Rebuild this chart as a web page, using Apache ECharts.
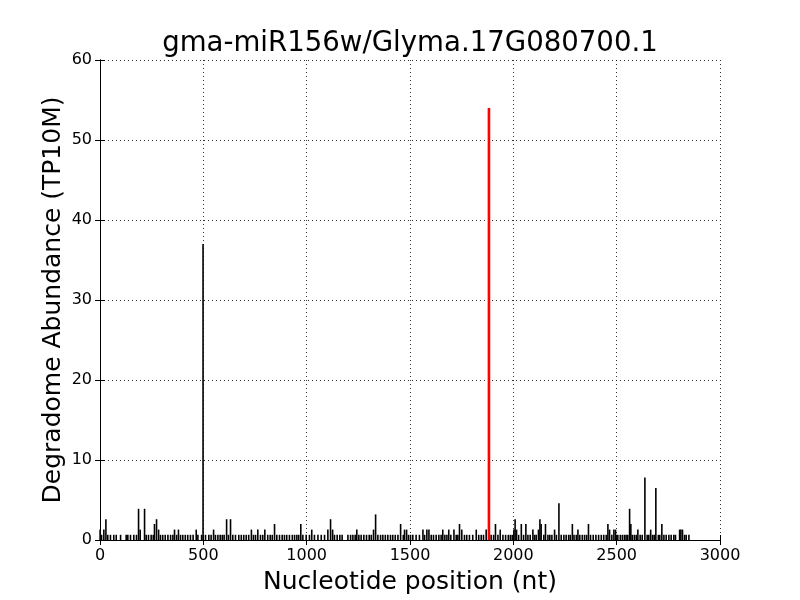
<!DOCTYPE html>
<html>
<head>
<meta charset="utf-8">
<script src="https://cdn.jsdelivr.net/npm/echarts@6/dist/echarts.min.js"></script>
<style>html,body{margin:0;padding:0;background:#fff}#c{width:800px;height:600px}</style>
</head>
<body>
<div id="c"></div>
<script>
const titleText = "gma-miR156w/Glyma.17G080700.1";
const xTicks = [0, 500, 1000, 1500, 2000, 2500, 3000];
const yTicks = [0, 10, 20, 30, 40, 50, 60];
// Degradome reads (position nt, abundance TP10M)
const readPositions = [3,10,21,31,40,53,69,81,102,129,137,150,166,179,189,197,218,226,237,250,260,266,276,286,295,306,318,331,344,355,363,373,382,392,403,415,427,440,453,468,476,494,501,513,529,540,552,561,573,584,594,603,615,624,634,645,658,674,686,698,710,722,735,745,755,766,779,790,800,814,826,836,847,858,871,884,895,906,919,933,944,955,964,974,984,
1000,1016,1027,1040,1057,1073,1089,1105,1118,1128,1137,1150,1163,1174,1202,1215,1226,1237,1245,1255,1266,1279,1292,1305,1315,1326,1336,1347,1360,1371,1383,1395,1408,1419,1431,1444,1457,1470,1476,1486,1495,
1505,1516,1532,1548,1565,1573,1584,1594,1605,1616,1629,1642,1653,1661,1671,1681,1690,1700,1715,1726,1734,1742,1753,1766,1777,1790,1806,1823,1835,1847,1858,1871,1895,1907,1916,1928,1939,1952,1965,1978,1988,1997,2005,
2011,2018,2028,2041,2052,2063,2073,2084,2097,2105,2113,2124,2131,2137,2150,2158,2170,2179,2189,2202,2211,2223,2234,2247,2258,2270,2278,2288,2296,2307,2315,2324,2336,2347,2357,2366,2376,2389,2402,2415,2428,2440,2452,2460,2468,2479,2489,2497,2508,
2520,2530,2540,2548,2556,2565,2571,2578,2588,2597,2605,2616,2626,2639,2650,2658,2667,2676,2684,2692,2704,2711,2721,2731,2742,2755,2766,2779,2787,2807,2813,2821,2831,2839,2852];
const readValues = [1.3,0.65,1.3,2.6,0.65,0.65,0.65,0.65,0.65,0.65,0.65,0.65,0.65,0.65,3.9,1.3,3.9,0.65,0.65,0.65,0.65,2.0,2.6,1.3,0.65,0.65,0.65,0.65,0.65,0.65,1.3,0.65,1.3,0.65,0.65,0.65,0.65,0.65,0.65,1.3,0.65,0.65,37.0,0.65,0.65,0.65,1.3,0.65,0.65,0.65,0.65,0.65,2.6,0.65,2.6,0.65,0.65,0.65,0.65,0.65,0.65,0.65,1.3,0.65,0.65,1.3,0.65,0.65,1.3,0.65,0.65,0.65,2.0,0.65,0.65,0.65,0.65,0.65,0.65,0.65,0.65,0.65,0.65,2.0,0.65,
0.65,0.65,1.3,0.65,0.65,0.65,0.65,1.3,2.6,1.3,0.65,0.65,0.65,0.65,0.65,0.65,0.65,0.65,1.3,0.65,0.65,0.65,0.65,0.65,0.65,1.3,3.2,0.65,0.65,0.65,0.65,0.65,0.65,0.65,0.65,0.65,2.0,0.65,1.3,1.3,0.65,
0.65,0.65,0.65,0.65,1.3,0.65,1.3,1.3,0.65,0.65,0.65,0.65,0.65,1.3,0.65,0.65,1.3,0.65,1.3,0.65,0.65,2.0,1.3,0.65,0.65,0.65,0.65,1.3,0.65,0.65,0.65,1.3,0.65,0.65,2.0,0.65,1.3,0.65,0.65,0.65,0.65,0.65,1.3,
2.6,1.3,0.65,2.0,0.65,2.0,0.65,0.65,1.3,0.65,0.65,1.3,2.6,2.0,0.65,2.0,0.65,0.65,0.65,1.3,0.65,4.6,0.65,0.65,0.65,0.65,0.65,2.0,0.65,0.65,1.3,0.65,0.65,0.65,0.65,2.0,0.65,0.65,0.65,0.65,0.65,0.65,0.65,2.0,1.3,0.65,1.3,1.3,0.65,
0.65,0.65,0.65,0.65,0.65,3.9,2.0,0.65,0.65,0.65,1.3,0.65,0.65,7.8,0.65,0.65,1.3,0.65,0.65,6.5,0.65,0.65,2.0,0.65,0.65,0.65,0.65,0.65,0.65,1.3,1.3,1.3,0.65,0.65,0.65];
// miRNA cleavage site
const sitePositions = [1882];
const siteValues = [54];

const font = "DejaVu Sans";
const chart = echarts.init(document.getElementById('c'), null, {renderer: 'canvas'});
const blackData = readPositions.map((p, i) => [p, readValues[i]]);
const redData = sitePositions.map((p, i) => [p, siteValues[i]]);
const fmt = v => String(v);
chart.setOption({
  animation: false,
  backgroundColor: '#fff',
  title: {
    text: titleText, left: 405, top: 25, textAlign: 'center',
    textStyle: {fontFamily: font, fontSize: 27.6, fontWeight: 'normal', color: '#000'}
  },
  grid: {left: 100, right: 80, top: 60, bottom: 60, containLabel: false},
  xAxis: [{
    type: 'value', min: 0, max: 3000, interval: 500,
    name: 'Nucleotide position (nt)', nameLocation: 'middle', nameGap: 30, nameMoveOverlap: false,
    nameTextStyle: {fontFamily: font, fontSize: 25, color: '#000'},
    axisLine: {show: true, onZero: false, lineStyle: {color: '#000', width: 1}},
    axisTick: {show: true, inside: true, length: 5, lineStyle: {color: '#000'}},
    axisLabel: {fontFamily: font, fontSize: 16, color: '#000', margin: 8, formatter: fmt},
    splitLine: {show: true, lineStyle: {color: '#000', type: [1, 3], width: 1, opacity: 0.8}}
  }, {
    type: 'value', position: 'top', min: 0, max: 3000, interval: 500,
    axisLine: {show: true, lineStyle: {color: '#000', width: 1}},
    axisTick: {show: true, inside: true, length: 5, lineStyle: {color: '#000'}},
    axisLabel: {show: false}, splitLine: {show: false}
  }],
  yAxis: [{
    type: 'value', min: 0, max: 60, interval: 10,
    name: 'Degradome Abundance (TP10M)', nameLocation: 'middle', nameGap: 34, nameMoveOverlap: false,
    nameTextStyle: {fontFamily: font, fontSize: 25, color: '#000'},
    axisLine: {show: true, onZero: false, lineStyle: {color: '#000', width: 1}},
    axisTick: {show: true, inside: true, length: 5, lineStyle: {color: '#000'}},
    axisLabel: {fontFamily: font, fontSize: 16, color: '#000', margin: 8, formatter: fmt},
    splitLine: {show: true, lineStyle: {color: '#000', type: [1, 3], width: 1, opacity: 0.8}}
  }, {
    type: 'value', position: 'right', min: 0, max: 60, interval: 10,
    axisLine: {show: true, lineStyle: {color: '#000', width: 1}},
    axisTick: {show: true, inside: true, length: 5, lineStyle: {color: '#000'}},
    axisLabel: {show: false}, splitLine: {show: false}
  }],
  series: [{
    type: 'bar', xAxisIndex: 0, yAxisIndex: 0, data: blackData,
    barWidth: 1.6, barGap: '-100%', itemStyle: {color: '#000'}
  }, {
    type: 'bar', xAxisIndex: 0, yAxisIndex: 0, data: redData,
    barWidth: 2.6, barGap: '-100%', itemStyle: {color: '#ff0000'}, z: 3
  }]
});
</script>
</body>
</html>
